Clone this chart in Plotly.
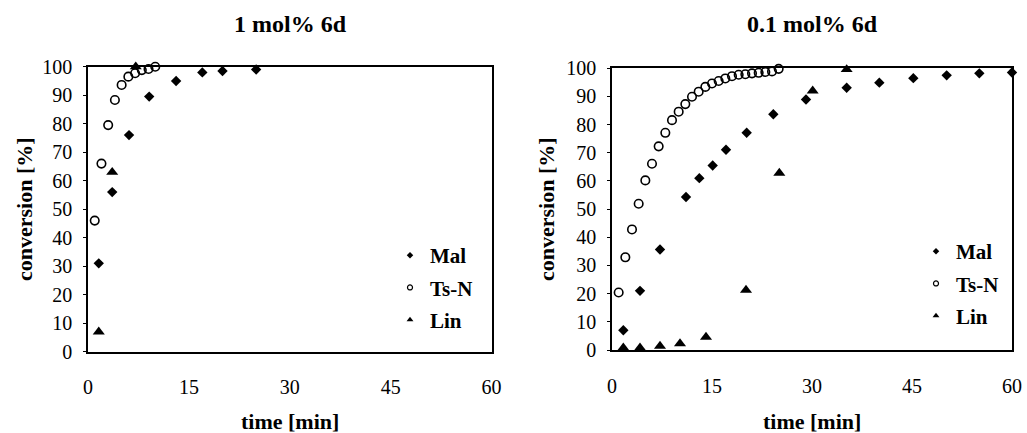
import plotly.graph_objects as go

# the page body margin is removed (see post_script), so paper pixels = screenshot pixels
OFF = 0
W, H = 1027 - OFF, 433 - OFF
FONT = "Liberation Serif"

# ---- data: 1 mol% 6d (left) ----
mal1_t = [1.6, 3.6, 6.1, 9.1, 13.1, 17, 20, 25]
mal1_c = [31, 56, 76, 89.5, 95, 98, 98.5, 99]
tsn1_t = [1, 2, 3, 4, 5, 6, 7, 8, 9, 10]
tsn1_c = [46, 66, 79.5, 88.3, 93.6, 96.5, 97.7, 98.8, 99.2, 100]
lin1_t = [1.6, 3.6, 7.1]
lin1_c = [7, 63, 100]

# ---- data: 0.1 mol% 6d (right) ----
mal2_t = [1.7, 4.2, 7.2, 11.1, 13.1, 15.1, 17.1, 20.2, 24.2, 29.1, 35.2, 40.1, 45.2, 50.2, 55.1, 60]
mal2_c = [7, 21, 35.7, 54.3, 61, 65.5, 71.1, 77.1, 83.7, 88.9, 93.1, 94.9, 96.5, 97.5, 98.2, 98.5]
tsn2_t = list(range(1, 26))
tsn2_c = [20.4, 32.9, 42.8, 51.9, 60.2, 66.1, 72.3, 77.1, 81.6, 84.6, 87.3, 89.9, 91.7,
          93.4, 94.6, 95.5, 96.4, 97.2, 97.7, 97.9, 98.2, 98.4, 98.7, 98.9, 99.8]
lin2_t = [1.7, 4.2, 7.2, 10.2, 14.1, 20.1, 25.1, 30.1, 35.2]
lin2_c = [0.8, 0.8, 1.4, 2.3, 4.6, 21.3, 62.8, 92, 99.6]

titles = ["1 mol% 6d", "0.1 mol% 6d"]
series_names = ["Mal", "Ts-N", "Lin"]
x_ticks = [0, 15, 30, 45, 60]
y_ticks = list(range(0, 101, 10))

styles = {
    "Mal": dict(symbol="diamond", size=8, color="black", line=dict(width=0)),
    "Ts-N": dict(symbol="circle-open", size=8.5, color="black", line=dict(width=1.6, color="black")),
    "Lin": dict(symbol="triangle-up", size=10.5, color="black", line=dict(width=0)),
}
leg_styles = {
    "Mal": dict(symbol="diamond", size=5, color="black", line=dict(width=0)),
    "Ts-N": dict(symbol="circle-open", size=5, color="black", line=dict(width=1.2, color="black")),
    "Lin": dict(symbol="triangle-up", size=6, color="black", line=dict(width=0)),
}

fig = go.Figure()

panels = [
    ("x", "y", "legend", [(mal1_t, mal1_c), (tsn1_t, tsn1_c), (lin1_t, lin1_c)]),
    ("x2", "y2", "legend2", [(mal2_t, mal2_c), (tsn2_t, tsn2_c), (lin2_t, lin2_c)]),
]
for xa, ya, lg, data in panels:
    for name, (t, c) in zip(series_names, data):
        fig.add_trace(go.Scatter(x=t, y=c, mode="markers", name=name, xaxis=xa, yaxis=ya,
                                 marker=styles[name], showlegend=False, cliponaxis=False))
    for name in series_names:
        fig.add_trace(go.Scatter(x=[None], y=[None], mode="markers", name="<b>%s</b>" % name,
                                 xaxis=xa, yaxis=ya, marker=leg_styles[name], showlegend=True,
                                 legend=lg, legendgroup=lg + name))

def px_x(v):
    return (v - OFF) / W

def px_y(v):
    return 1 - (v - OFF) / H

axis_common = dict(showline=True, mirror=True, linecolor="black", linewidth=1.5,
                   showgrid=False, zeroline=False, automargin=False,
                   tickfont=dict(family=FONT, size=20, color="black"))

fig.update_layout(
    width=W, height=H,
    margin=dict(l=0, r=0, t=0, b=0, autoexpand=False),
    paper_bgcolor="white", plot_bgcolor="white",
    font=dict(family=FONT, color="black"),
    xaxis=dict(domain=[px_x(88), px_x(491.5)], range=[0, 60], tickvals=x_ticks,
               ticks="", ticklabelstandoff=17, anchor="y", **axis_common),
    yaxis=dict(domain=[px_y(351.7), px_y(66.7)], range=[0, 100], tickvals=y_ticks,
               ticks="outside", ticklen=3, tickwidth=1, tickcolor="black",
               ticklabelstandoff=7, anchor="x", **axis_common),
    xaxis2=dict(domain=[px_x(612), px_x(1012)], range=[0, 60], tickvals=x_ticks,
                ticks="", ticklabelstandoff=17, anchor="y2", **axis_common),
    yaxis2=dict(domain=[px_y(350), px_y(68.3)], range=[0, 100], tickvals=y_ticks,
                ticks="outside", ticklen=3, tickwidth=1, tickcolor="black",
                ticklabelstandoff=7, anchor="x2", **axis_common),
    legend=dict(x=px_x(390), y=px_y(235), xanchor="left", yanchor="top",
                bgcolor="rgba(0,0,0,0)", tracegroupgap=2,
                font=dict(family=FONT, size=21, color="black")),
    legend2=dict(x=px_x(916), y=px_y(231), xanchor="left", yanchor="top",
                 bgcolor="rgba(0,0,0,0)", tracegroupgap=2,
                 font=dict(family=FONT, size=21, color="black")),
)

ann = []
for cx, title in ((290, titles[0]), (812, titles[1])):
    ann.append(dict(text="<b>%s</b>" % title, x=px_x(cx), y=px_y(24), xref="paper", yref="paper",
                    showarrow=False, xanchor="center", yanchor="middle",
                    font=dict(family=FONT, size=24, color="black")))
for cx in (290, 812):
    ann.append(dict(text="<b>time [min]</b>", x=px_x(cx), y=px_y(421), xref="paper", yref="paper",
                    showarrow=False, xanchor="center", yanchor="middle",
                    font=dict(family=FONT, size=22, color="black")))
for cx, cy in ((25, 209), (547, 209)):
    ann.append(dict(text="<b>conversion [%]</b>", x=px_x(cx), y=px_y(cy), xref="paper", yref="paper",
                    showarrow=False, xanchor="center", yanchor="middle", textangle=-90,
                    font=dict(family=FONT, size=22, color="black")))
fig.update_layout(annotations=ann)

fig.write_html(
    "out.html",
    config={"displayModeBar": False},
    post_script="document.body.style.margin='0';"
                "document.documentElement.style.overflow='hidden';",
)
